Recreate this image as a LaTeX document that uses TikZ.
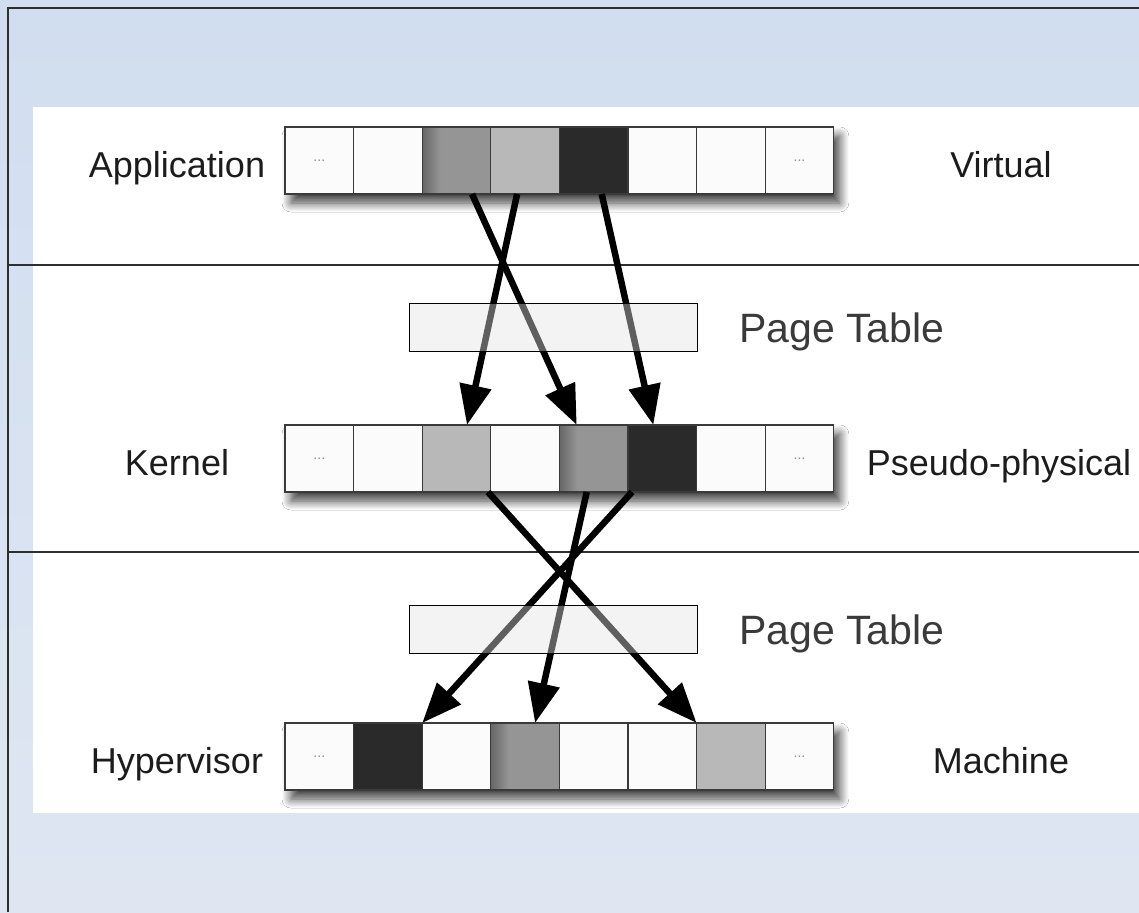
\documentclass[tikz,border=0pt]{standalone}
\usepackage{fontspec}
\setmainfont{Liberation Sans}
\usetikzlibrary{arrows.meta,shadows.blur}

\definecolor{bgtop}{HTML}{D1DEEF}
\definecolor{bgbot}{HTML}{DFE6F2}
\definecolor{framecol}{HTML}{2E2E2E}
\definecolor{cellline}{HTML}{3A3A3A}
\definecolor{cwhitefill}{HTML}{FBFBFB}
\definecolor{clightfill}{HTML}{B8B8B8}
\definecolor{cdarkfill}{HTML}{2A2A2A}
\definecolor{cmidL}{HTML}{666666}
\definecolor{cmidR}{HTML}{959595}
\definecolor{ptfill}{HTML}{E4E4E4}
\definecolor{labeltext}{HTML}{1C1C1C}
\definecolor{pttext}{HTML}{3A3A3A}
\definecolor{dotcol}{HTML}{8A8A8A}

% mid-grey cell: darker band on the left edge, flat grey elsewhere
\pgfdeclarehorizontalshading{midcell}{100bp}{color(0bp)=(cmidL); color(25bp)=(cmidL);
  color(38bp)=(cmidR); color(100bp)=(cmidR)}

\begin{document}
\begin{tikzpicture}[x=1pt,y=-1pt,
  cell/.style={draw=cellline, line width=1.2pt, minimum width=68.6pt,
    minimum height=67pt, inner sep=0pt, outer sep=0pt, anchor=north west},
  cdots/.style={fill=cwhitefill},
  cwhite/.style={fill=cwhitefill},
  clight/.style={fill=clightfill},
  cdark/.style={fill=cdarkfill},
  cmid/.style={shading=midcell, shading angle=0},
  dotstxt/.style={text=dotcol, font=\fontsize{14}{14}\selectfont, inner sep=0pt},
  rowshadow/.style={blur shadow={shadow xshift=6pt, shadow yshift=-9pt,
    shadow blur radius=9pt, shadow blur steps=12, shadow opacity=75}},
  lbl/.style={text=labeltext, font=\fontsize{36}{40}\selectfont, inner sep=0pt, anchor=base},
  ptbox/.style={draw=black, line width=0.9pt, fill=ptfill, fill opacity=0.42,
    minimum width=288pt, minimum height=48pt, inner sep=0pt},
  ptlbl/.style={text=pttext, font=\fontsize{41}{45}\selectfont, inner sep=0pt, anchor=base west},
  arr/.style={line width=6.5pt, black, -{Triangle[width=31pt,length=40pt]}},
  sepline/.style={draw=framecol, line width=2pt}
]
\useasboundingbox (0,0) rectangle (1139,912);

% backdrop, frame and white panel
\shade[top color=bgtop, bottom color=bgbot] (0,0) rectangle (1139,912);
\fill[white] (33,107) rectangle (1139,813);
\draw[framecol, line width=1.5pt] (8,912) -- (8,8) -- (1139,8);
\draw[sepline] (8,265) -- (1139,265);
\draw[sepline] (8,552) -- (1139,552);

% row shadows
\path[rowshadow] (285,127) rectangle (833.8,194);
\path[rowshadow] (285,425) rectangle (833.8,492);
\path[rowshadow] (285,723) rectangle (833.8,790);

% virtual address row
\foreach \t [count=\i] in {cdots,cwhite,cmid,clight,cdark,cwhite,cwhite,cdots}
  \node[cell,\t] (v\i) at ({285+68.6*(\i-1)},127) {};
% pseudo-physical row
\foreach \t [count=\i] in {cdots,cwhite,clight,cwhite,cmid,cdark,cwhite,cdots}
  \node[cell,\t] (k\i) at ({285+68.6*(\i-1)},425) {};
% machine row
\foreach \t [count=\i] in {cdots,cdark,cwhite,cmid,cwhite,cwhite,clight,cdots}
  \node[cell,\t] (m\i) at ({285+68.6*(\i-1)},723) {};

\foreach \r in {v,k,m} {
  \node[dotstxt] (\r1d) at (\r1) {...};
  \node[dotstxt] (\r8d) at (\r8) {...};
}

% mappings virtual -> pseudo-physical
\draw[arr] ([xshift=15.5pt]v3.south) -- ([xshift=-17pt]k5.north);
\draw[arr] ([xshift=-8pt]v4.south) -- ([xshift=10.5pt]k3.north);
\draw[arr] ([xshift=8pt]v5.south) -- ([xshift=-9pt]k6.north);
% mappings pseudo-physical -> machine
\draw[arr] ([xshift=31.5pt]k3.south) -- (m7.north west);
\draw[arr] ([xshift=-7pt]k5.south) -- ([xshift=10pt]m4.north);
\draw[arr] ([xshift=4pt]k6.south west) -- (m2.north east);

% page tables
\node[ptbox] (pt1) at (553,327) {};
\node[ptbox] (pt2) at (553,629.5) {};
\node[ptlbl] (pt1l) at (739,342) {Page Table};
\node[ptlbl] (pt2l) at (739,644.5) {Page Table};

% row labels
\node[lbl] (lapp) at (177,177) {Application};
\node[lbl] (lker) at (177,475) {Kernel};
\node[lbl] (lhyp) at (177,773) {Hypervisor};
\node[lbl] (lvir) at (1001,177) {Virtual};
\node[lbl] (lpse) at (999,475) {Pseudo-physical};
\node[lbl] (lmac) at (1001,773) {Machine};
\end{tikzpicture}
\end{document}
